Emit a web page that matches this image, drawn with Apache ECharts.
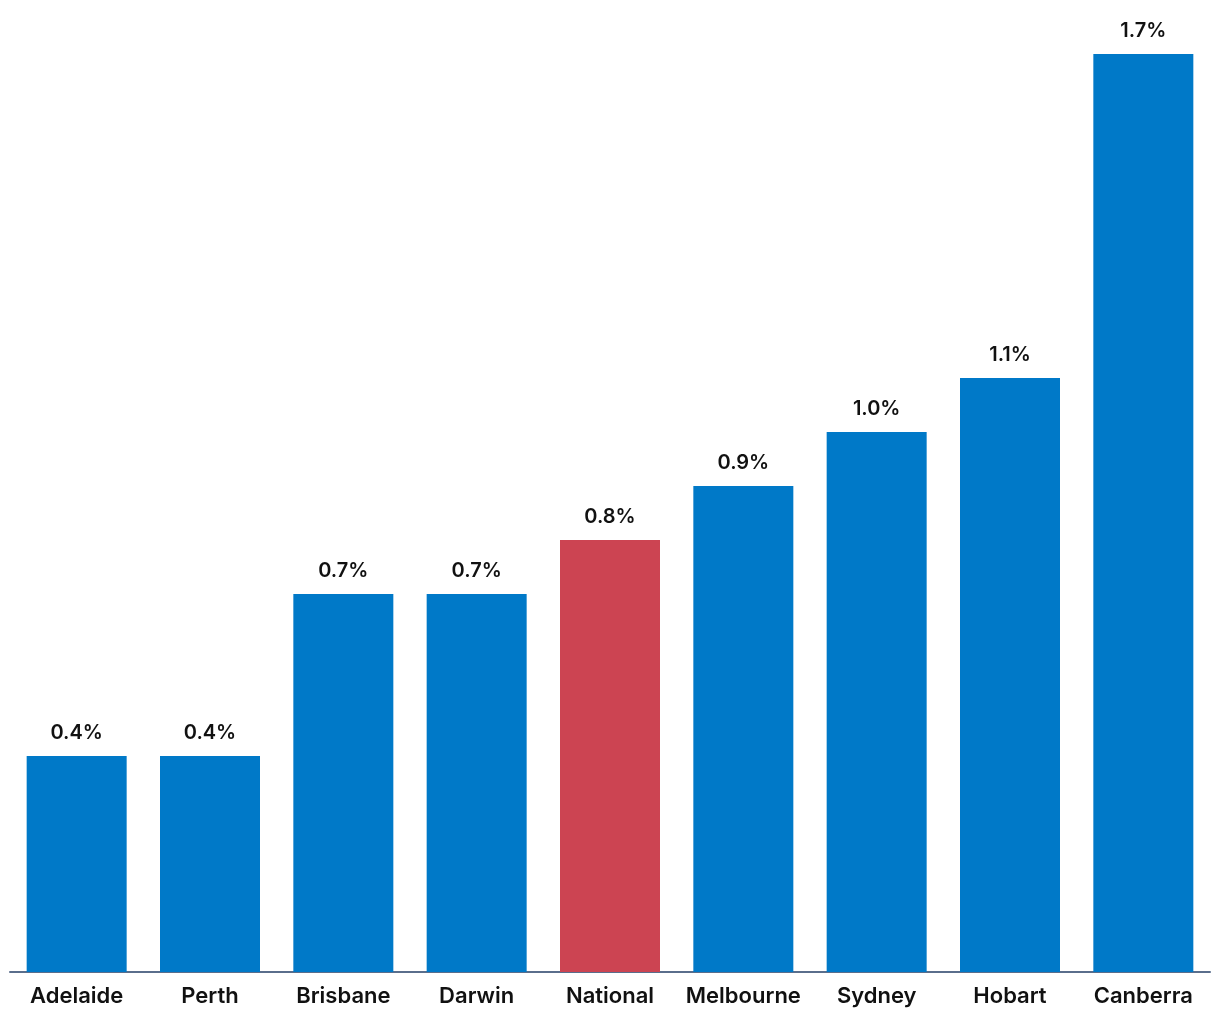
<!DOCTYPE html>
<html><head><meta charset="utf-8">
<script src="https://cdn.jsdelivr.net/npm/echarts@6/dist/echarts.min.js"></script>
<style>html,body{margin:0;padding:0;background:#fff}#c{width:1220px;height:1020px}</style>
</head><body><div id="c"></div>
<script>
const categories = ['Adelaide','Perth','Brisbane','Darwin','National','Melbourne','Sydney','Hobart','Canberra'];
const values = [0.4, 0.4, 0.7, 0.7, 0.8, 0.9, 1.0, 1.1, 1.7];
const highlight = 'National';
const BLUE = '#0079c8', RED = '#cc4452';
const chart = echarts.init(document.getElementById('c'));
chart.setOption({
  animation: false,
  grid: {left: 10, right: 10, top: 54, bottom: 48, containLabel: false},
  xAxis: {
    type: 'category', data: categories,
    axisLine: {lineStyle: {color: '#5a6e8c', width: 2}},
    axisTick: {show: false},
    axisLabel: {color: '#111', fontSize: 22, fontWeight: 600, fontFamily: 'Inter', margin: 13, interval: 0,
      rich: {}, letterSpacing: 0.6}
  },
  yAxis: {type: 'value', min: 0, max: 1.7, show: false, splitLine: {show: false}},
  series: [{
    type: 'bar', barCategoryGap: '25%',
    data: values.map((v, i) => ({value: v, itemStyle: {color: categories[i] === highlight ? RED : BLUE}})),
    label: {show: true, position: 'top', distance: 13, color: '#111', fontSize: 20, fontWeight: 600, fontFamily: 'Inter',
      formatter: p => p.value.toFixed(1) + '%'}
  }]
});
</script></body></html>
